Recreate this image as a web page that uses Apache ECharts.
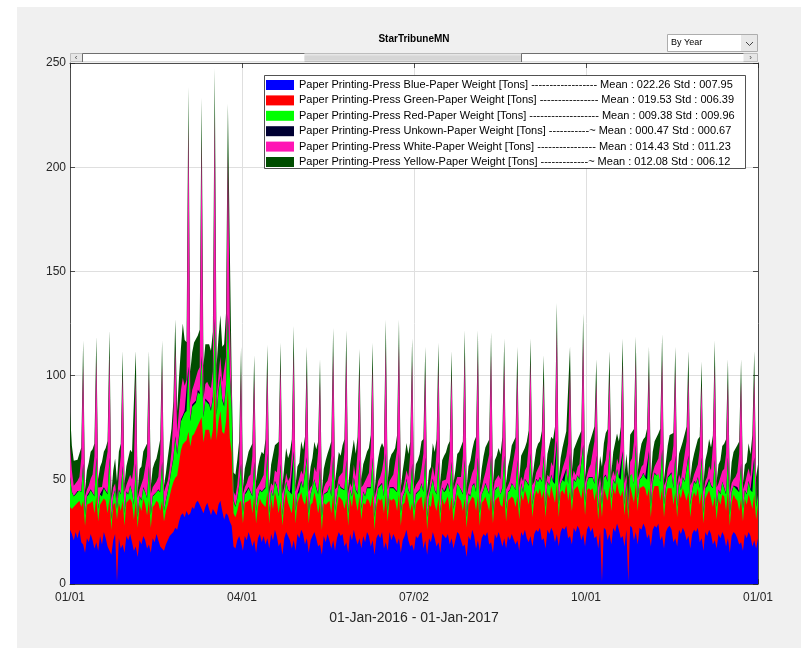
<!DOCTYPE html>
<html>
<head>
<meta charset="utf-8">
<script src="https://cdn.jsdelivr.net/npm/echarts@6/dist/echarts.min.js"></script>
<style>
html,body{margin:0;padding:0;background:#fff;}
#chart{width:801px;height:648px;}
</style>
</head>
<body>
<div id="chart"></div>
<script>
// ---- data (daily, 01-Jan-2016 .. 01-Jan-2017), one row per week ----
const chartTitle = 'StarTribuneMN';
const xAxisTitle = '01-Jan-2016 - 01-Jan-2017';
const xTickLabels = ['01/01', '04/01', '07/02', '10/01', '01/01'];
const dropdownText = 'By Year';
const seriesNames = [
  'Paper Printing-Press Blue-Paper Weight [Tons] ------------------ Mean : 022.26 Std : 007.95',
  'Paper Printing-Press Green-Paper Weight [Tons] ---------------- Mean : 019.53 Std : 006.39',
  'Paper Printing-Press Red-Paper Weight [Tons] ------------------- Mean : 009.38 Std : 009.96',
  'Paper Printing-Press Unkown-Paper Weight [Tons] -----------~ Mean : 000.47 Std : 000.67',
  'Paper Printing-Press White-Paper Weight [Tons] ---------------- Mean : 014.43 Std : 011.23',
  'Paper Printing-Press Yellow-Paper Weight [Tons] -------------~ Mean : 012.08 Std : 006.12'
];
const seriesColors = ['#0000ff', '#ff0000', '#00ff00', '#000033', '#ff14b4', '#004d00'];

const bluePaper = [
26,24,21,25,22,26,20,
19,15,22,20,24,21,17,
20,16,23,19,25,22,18,
18,14,21,24,1,22,17,
19,15,23,21,24,20,16,
18,13,21,19,23,21,17,
19,15,22,20,24,21,18,
18,16,19,21,23,24,25,
27,26,30,33,34,32,35,
33,34,37,36,39,40,38,
38,34,37,39,36,33,36,
36,33,38,40,35,31,34,
33,30,28,18,17,21,23,
20,16,23,21,25,22,18,
21,15,22,24,20,23,19,
22,17,24,21,26,23,18,
20,14,22,25,23,21,17,
21,16,24,22,26,24,19,
22,15,21,23,25,22,18,
19,14,23,20,24,21,17,
21,16,22,25,23,24,18,
20,15,24,21,26,22,19,
22,17,23,20,25,23,18,
21,14,22,24,22,25,17,
20,16,25,21,24,22,19,
22,15,21,23,26,21,18,
19,16,23,22,24,25,17,
21,14,22,20,25,22,18,
20,15,24,23,22,24,19,
22,17,21,25,24,21,18,
19,13,23,21,26,23,17,
21,16,22,24,23,25,19,
20,15,24,22,25,22,18,
22,17,23,21,24,24,19,
21,16,25,23,26,22,20,
23,18,24,26,25,27,21,
22,17,26,24,27,25,20,
24,18,25,27,26,28,22,
23,19,27,25,28,26,21,
24,18,26,28,25,27,22,
23,17,25,1,27,26,21,
24,19,27,25,29,26,22,
23,18,26,1,28,27,21,
25,19,27,26,29,27,22,
24,18,26,28,27,29,21,
23,17,25,27,28,26,20,
22,18,26,24,27,25,21,
23,17,24,26,25,27,20,
22,16,25,23,26,24,19,
21,17,24,22,25,23,18,
22,15,23,25,24,22,19,
20,16,24,22,25,23,18,
21,17,22
];

const greenPaper = [
11,12,15,13,16,14,17,
21,13,16,18,15,19,17,
22,14,15,19,16,18,16,
23,12,17,15,30,17,18,
21,13,16,18,17,19,15,
22,14,17,16,18,17,16,
21,12,15,18,16,18,17,
22,14,16,17,19,22,24,
24,26,28,31,33,35,34,
40,32,34,36,33,36,38,
42,34,37,35,38,36,38,
58,36,40,43,38,41,44,
60,40,35,16,15,14,16,
20,13,16,18,15,19,16,
21,14,15,17,19,16,18,
22,12,17,15,18,17,16,
20,14,16,19,16,18,17,
23,13,15,17,18,16,19,
21,14,17,16,19,18,16,
20,12,16,18,15,19,17,
22,14,15,17,18,16,18,
21,13,17,16,19,18,16,
20,14,16,18,16,17,19,
22,12,15,17,18,16,17,
23,14,16,19,17,18,16,
21,13,17,16,18,19,17,
20,14,15,18,16,17,18,
22,12,16,17,19,16,17,
21,14,17,15,18,18,16,
20,13,16,18,17,19,17,
22,14,15,17,16,18,18,
21,12,17,16,19,17,16,
23,14,16,18,17,16,19,
22,13,17,19,18,17,18,
21,15,18,17,19,20,18,
22,14,17,19,18,19,20,
23,15,18,17,20,18,19,
24,14,19,18,17,20,18,
22,16,18,20,19,18,20,
23,15,19,18,20,19,18,
22,14,18,31,19,20,19,
23,16,19,18,20,18,20,
22,15,18,30,19,20,18,
23,16,19,20,18,19,20,
22,14,18,19,20,18,19,
23,15,17,19,18,20,18,
22,14,18,17,19,18,19,
21,15,17,18,17,19,18,
22,13,16,18,19,17,18,
21,14,17,16,18,19,17,
22,13,16,18,17,18,16,
21,14,17,16,18,17,18,
22,14,16
];

const redPaper = [
14,8,6,5,6,5,7,
17,5,4,5,6,5,8,
18,6,5,4,5,6,9,
19,5,4,6,5,6,8,
16,6,5,4,6,5,7,
17,5,4,5,5,6,8,
16,6,5,5,4,6,9,
18,5,5,6,7,9,11,
19,10,12,14,13,15,14,
30,12,14,13,15,16,15,
28,12,14,13,12,14,15,
32,12,14,16,15,13,17,
35,30,20,6,5,6,8,
17,5,4,5,6,5,8,
16,6,5,4,5,6,9,
18,5,4,6,5,7,8,
17,5,5,5,6,5,9,
19,6,4,5,5,6,8,
17,5,5,4,6,6,9,
16,6,4,5,5,7,8,
18,5,5,6,5,6,9,
18,6,4,5,6,5,8,
17,5,5,4,5,6,9,
17,6,4,5,6,7,8,
19,5,5,6,5,6,9,
19,6,4,5,6,5,8,
18,5,5,4,5,6,9,
17,6,4,5,6,7,8,
17,5,5,6,5,6,9,
16,6,4,5,6,5,8,
18,5,5,4,5,7,9,
18,6,4,5,6,6,8,
18,5,5,6,5,5,9,
17,6,4,5,6,6,8,
17,5,5,4,5,7,9,
17,6,4,5,6,5,8,
16,5,5,6,5,6,9,
20,6,4,5,6,7,8,
17,5,5,4,5,6,9,
19,6,4,5,6,5,8,
16,5,5,6,5,6,9,
17,6,4,5,6,7,8,
18,5,5,4,5,6,9,
18,6,4,5,6,5,8,
17,5,5,6,5,6,9,
18,6,4,5,6,7,8,
17,5,5,4,5,6,9,
17,6,4,5,6,5,8,
16,5,5,6,5,6,9,
17,6,4,5,6,7,8,
16,5,5,4,5,6,9,
16,6,4,5,6,5,8,
17,6,5
];

const unknownPaper = [
0.5,0.3,0.2,0.4,0.6,0.3,0.5,
0.8,0.2,0.4,0.3,0.5,0.6,0.4,
0.8,0.3,0.2,0.5,0.4,0.3,0.6,
0.8,0.4,0.3,0.2,0.1,0.5,0.3,
0.8,0.2,0.5,0.3,0.4,0.2,0.5,
0.8,0.3,0.2,0.4,0.6,0.3,0.4,
0.8,0.2,0.4,0.3,0.2,0.5,0.3,
0.8,0.3,0.2,0.5,0.4,0.6,0.8,
1.0,0.9,1.2,1.0,1.0,1.1,1.0,
1.5,1.0,1.1,0.9,1.0,1.2,1.0,
1.5,0.9,1.0,1.1,1.0,0.9,1.1,
1.5,1.0,1.2,1.0,0.9,1.1,1.0,
1.5,1.5,1.0,0.5,0.4,0.5,0.6,
0.8,0.2,0.4,0.3,0.5,0.6,0.4,
0.8,0.3,0.2,0.5,0.4,0.3,0.6,
0.8,0.4,0.3,0.2,0.6,0.5,0.3,
0.8,0.2,0.5,0.3,0.4,0.2,0.5,
0.8,0.3,0.4,0.2,0.5,0.4,0.6,
0.8,0.2,0.3,0.5,0.3,0.6,0.4,
0.8,0.4,0.2,0.3,0.5,0.3,0.5,
0.8,0.3,0.4,0.3,0.5,0.6,0.4,
0.8,0.2,0.3,0.4,0.2,0.5,0.6,
0.8,0.3,0.5,0.2,0.4,0.3,0.5,
0.8,0.4,0.2,0.5,0.3,0.6,0.4,
0.8,0.2,0.4,0.3,0.5,0.2,0.5,
0.8,0.3,0.2,0.4,0.6,0.4,0.3,
0.8,0.2,0.5,0.3,0.4,0.5,0.6,
0.8,0.4,0.3,0.2,0.5,0.3,0.4,
0.8,0.3,0.4,0.5,0.2,0.6,0.5,
0.8,0.2,0.3,0.4,0.5,0.3,0.4,
0.8,0.3,0.5,0.2,0.4,0.5,0.6,
0.8,0.4,0.2,0.3,0.6,0.4,0.3,
0.8,0.2,0.4,0.5,0.3,0.2,0.5,
0.8,0.3,0.3,0.4,0.5,0.6,0.4,
0.8,0.2,0.5,0.3,0.4,0.3,0.6,
0.8,0.4,0.2,0.5,0.3,0.5,0.4,
0.8,0.3,0.4,0.2,0.6,0.4,0.5,
0.8,0.2,0.3,0.4,0.5,0.3,0.4,
0.8,0.3,0.5,0.3,0.2,0.6,0.5,
0.8,0.4,0.2,0.4,0.5,0.3,0.6,
0.8,0.2,0.4,0.3,0.4,0.5,0.3,
0.8,0.3,0.3,0.5,0.2,0.4,0.5,
0.8,0.2,0.5,0.2,0.6,0.3,0.4,
0.8,0.4,0.2,0.3,0.4,0.5,0.6,
0.8,0.3,0.4,0.5,0.3,0.2,0.5,
0.8,0.2,0.3,0.4,0.5,0.6,0.4,
0.8,0.3,0.5,0.2,0.4,0.3,0.5,
0.8,0.4,0.2,0.5,0.3,0.4,0.6,
0.8,0.2,0.4,0.3,0.6,0.5,0.3,
0.8,0.3,0.3,0.4,0.2,0.3,0.5,
0.8,0.2,0.5,0.3,0.4,0.6,0.4,
0.8,0.4,0.2,0.4,0.5,0.3,0.5,
0.8,0.3,0.4
];

const whitePaper = [
15,10,5,4,5,6,16,
47,9,3,4,5,7,19,
47,10,3,4,6,6,20,
49,9,4,3,3,7,18,
44,10,3,4,5,6,19,
42,9,3,5,4,7,20,
44,10,4,3,5,6,18,
46,9,4,5,6,8,20,
42,10,12,14,18,12,14,
116,8,7,10,8,9,12,
104,8,7,9,8,10,12,
98,8,7,9,8,10,13,
77,25,6,4,5,6,10,
44,9,3,4,5,6,19,
40,10,4,3,6,7,18,
40,9,3,5,5,6,20,
47,10,3,4,4,7,19,
47,9,4,3,5,6,18,
41,10,3,4,6,7,20,
41,9,3,5,5,6,19,
49,10,4,3,4,7,18,
50,9,3,4,6,6,20,
42,10,3,5,5,7,19,
43,9,4,3,5,6,18,
51,10,3,4,6,7,20,
52,9,3,5,4,6,19,
49,10,4,3,5,7,18,
41,9,3,4,6,6,20,
45,10,3,5,5,7,19,
42,9,4,3,4,6,18,
50,10,3,4,6,7,20,
49,9,3,5,5,6,19,
48,10,4,3,5,7,18,
44,9,3,4,6,6,20,
42,10,3,5,4,7,19,
44,9,4,3,5,6,18,
36,10,3,4,6,7,20,
53,9,3,5,5,6,19,
39,10,4,3,4,7,18,
51,9,3,4,6,6,20,
35,10,3,5,5,7,19,
35,9,4,3,5,6,18,
42,10,3,4,6,7,20,
41,9,3,5,4,6,19,
38,10,4,3,5,7,18,
43,9,3,4,6,6,20,
41,10,3,5,5,7,19,
38,9,4,3,4,6,18,
35,10,3,4,6,7,20,
45,9,3,5,5,6,19,
36,10,4,3,5,7,18,
39,9,3,4,6,6,20,
39,10,4
];

const yellowPaper = [
16,12,12,11,10,9,5,
12,3,9,11,13,12,6,
11,4,10,12,11,13,5,
12,3,8,12,10,11,6,
11,4,9,10,12,13,5,
12,3,10,11,13,12,6,
11,4,9,12,11,13,7,
12,3,9,11,12,11,7,
14,10,16,20,26,22,18,
18,15,18,20,19,17,18,
20,16,19,17,20,18,19,
22,15,18,20,17,19,21,
24,35,10,9,10,12,11,
12,3,9,11,12,11,6,
11,4,10,12,13,10,5,
12,3,9,10,12,13,6,
11,4,10,12,11,12,7,
13,3,9,11,14,12,6,
12,4,10,13,12,11,5,
11,3,9,11,13,12,7,
12,4,10,12,11,13,6,
12,3,9,11,12,11,7,
11,4,10,13,12,12,6,
12,3,9,11,14,13,5,
13,4,10,12,11,12,7,
12,3,9,11,13,11,6,
11,4,10,12,12,13,7,
12,3,9,10,11,12,6,
12,4,10,12,13,11,5,
11,3,9,11,12,12,7,
12,4,10,13,11,13,6,
12,3,9,11,12,11,7,
11,4,10,12,13,12,6,
12,3,9,11,12,13,5,
12,4,10,12,11,12,7,
11,3,9,11,13,11,6,
12,4,10,12,12,13,7,
13,3,9,10,11,12,6,
12,4,10,12,13,11,5,
12,3,9,11,12,12,7,
11,4,10,13,11,13,6,
12,3,9,11,12,11,7,
12,4,10,12,13,12,6,
11,3,9,11,12,13,5,
12,4,10,12,11,12,7,
12,3,9,11,13,11,6,
11,4,10,12,12,13,7,
12,3,9,10,11,12,6,
11,4,10,12,13,11,5,
12,3,9,11,12,12,7,
11,4,10,13,11,13,6,
11,3,9,11,12,11,7,
12,4,10
];

const seriesValues = [bluePaper, greenPaper, redPaper, unknownPaper, whitePaper, yellowPaper];

// ---- chart ----
const FONT = '"Liberation Sans", Arial, Helvetica, sans-serif';
const AX = '#262626';
const chart = echarts.init(document.getElementById('chart'), null, {renderer: 'canvas'});

// stacked (cumulative) tops, computed from the series values
const nDays = bluePaper.length;
const cumulative = [];
seriesValues.forEach(function (vals, s) {
  const row = [];
  for (let i = 0; i < nDays; i++) {
    const below = s > 0 ? cumulative[s - 1][i] : 0;
    row.push(below + (vals[i] || 0));
  }
  cumulative.push(row);
});

// each layer filled down to 0; higher layers are drawn underneath lower ones
const series = seriesValues.map(function (vals, s) {
  return {
    type: 'line',
    name: seriesNames[s],
    data: cumulative[s].map(function (v, i) { return [i, v]; }),
    showSymbol: false,
    symbol: 'none',
    color: seriesColors[s],
    itemStyle: {color: seriesColors[s]},
    lineStyle: {width: 0},
    areaStyle: {color: seriesColors[s], opacity: 1, origin: 'start'},
    emphasis: {disabled: true},
    silent: true,
    z: 2 + (seriesValues.length - s)
  };
});

const option = {
  animation: false,
  backgroundColor: '#ffffff',
  textStyle: {fontFamily: FONT},
  grid: {left: 70, top: 63, right: 43, bottom: 64, show: true, backgroundColor: '#ffffff', borderWidth: 0, containLabel: false},
  xAxis: [{
    type: 'value', min: 0, max: 366, interval: 91.5, position: 'bottom',
    axisLine: {show: true, onZero: false, lineStyle: {color: AX, width: 0.8}},
    axisTick: {show: true, inside: true, length: 5, lineStyle: {color: AX, width: 0.8}},
    axisLabel: {
      formatter: function (v) { return xTickLabels[Math.round(v / 91.5)] || ''; },
      fontSize: 12, color: AX, margin: 8, fontFamily: FONT
    },
    splitLine: {show: true, lineStyle: {color: '#dfdfdf', width: 1}},
    name: xAxisTitle, nameLocation: 'middle', nameGap: 27,
    nameTextStyle: {fontSize: 14, color: AX, fontFamily: FONT}
  }, {
    type: 'value', min: 0, max: 366, interval: 91.5, position: 'top',
    axisLine: {show: true, onZero: false, lineStyle: {color: AX, width: 0.8}},
    axisTick: {show: true, inside: true, length: 5, lineStyle: {color: AX, width: 0.8}},
    axisLabel: {show: false}, splitLine: {show: false}
  }],
  yAxis: [{
    type: 'value', min: 0, max: 250, interval: 50, position: 'left',
    axisLine: {show: true, onZero: false, lineStyle: {color: AX, width: 0.8}},
    axisTick: {show: true, inside: true, length: 5, lineStyle: {color: AX, width: 0.8}},
    axisLabel: {fontSize: 12, color: AX, margin: 4, fontFamily: FONT},
    splitLine: {show: true, lineStyle: {color: '#dfdfdf', width: 1}}
  }, {
    type: 'value', min: 0, max: 250, interval: 50, position: 'right',
    axisLine: {show: true, onZero: false, lineStyle: {color: AX, width: 0.8}},
    axisTick: {show: true, inside: true, length: 5, lineStyle: {color: AX, width: 0.8}},
    axisLabel: {show: false}, splitLine: {show: false}
  }],
  legend: {
    show: true, orient: 'vertical', left: 266, top: 79.5, padding: 0,
    itemWidth: 28, itemHeight: 10, itemGap: 4.4,
    icon: 'rect', selectedMode: false,
    itemStyle: {borderWidth: 0},
    textStyle: {fontSize: 11, color: '#000', fontFamily: FONT, lineHeight: 11},
    data: seriesNames, z: 30
  },
  graphic: [
    {type: 'rect', z: -100, silent: true, shape: {x: 17, y: 7, width: 784, height: 641}, style: {fill: '#f0f0f0'}},
    // legend box
    {type: 'rect', z: 20, silent: true, shape: {x: 264.5, y: 75.5, width: 481, height: 93}, style: {fill: '#ffffff', stroke: '#262626', lineWidth: 0.8}},
    // title
    {type: 'text', z: 5, silent: true, x: 414, y: 39.5, style: {text: chartTitle, fill: '#000', font: 'bold 10px ' + FONT, align: 'center', verticalAlign: 'middle'}},
    // dropdown
    {type: 'rect', z: 5, silent: true, shape: {x: 667.5, y: 34.5, width: 90, height: 17}, style: {fill: '#ffffff', stroke: '#adadad', lineWidth: 1}},
    {type: 'rect', z: 5, silent: true, shape: {x: 741, y: 35, width: 16, height: 16}, style: {fill: '#e8e8e8'}},
    {type: 'polyline', z: 6, silent: true, shape: {points: [[746, 42], [749.5, 45.5], [753, 42]]}, style: {stroke: '#444', lineWidth: 1, fill: null}},
    {type: 'text', z: 6, silent: true, x: 671, y: 43, style: {text: dropdownText, fill: '#000', font: '9px ' + FONT, align: 'left', verticalAlign: 'middle'}},
    // slider
    {type: 'rect', z: 5, silent: true, shape: {x: 70.5, y: 53.5, width: 687, height: 8}, style: {fill: '#e6e6e6', stroke: '#bdbdbd', lineWidth: 1}},
    {type: 'rect', z: 5, silent: true, shape: {x: 82.5, y: 53.5, width: 222, height: 8}, style: {fill: '#ffffff', stroke: null}},
    {type: 'rect', z: 5, silent: true, shape: {x: 521.5, y: 53.5, width: 222, height: 8}, style: {fill: '#ffffff', stroke: null}},
    {type: 'rect', z: 5, silent: true, shape: {x: 304.5, y: 55.5, width: 217, height: 5}, style: {fill: '#d6d6d6', stroke: null}},
    {type: 'polyline', z: 6, silent: true, shape: {points: [[82.5, 62], [82.5, 53.5], [304.5, 53.5]]}, style: {stroke: '#6f6f6f', lineWidth: 1, fill: null}},
    {type: 'polyline', z: 6, silent: true, shape: {points: [[521.5, 62], [521.5, 53.5], [743.5, 53.5]]}, style: {stroke: '#6f6f6f', lineWidth: 1, fill: null}},
    {type: 'text', z: 6, silent: true, x: 76, y: 57.5, style: {text: '\u2039', fill: '#444', font: '8px ' + FONT, align: 'center', verticalAlign: 'middle'}},
    {type: 'text', z: 6, silent: true, x: 750.5, y: 57.5, style: {text: '\u203A', fill: '#444', font: '8px ' + FONT, align: 'center', verticalAlign: 'middle'}}
  ],
  series: series
};
chart.setOption(option);
</script>
</body>
</html>
